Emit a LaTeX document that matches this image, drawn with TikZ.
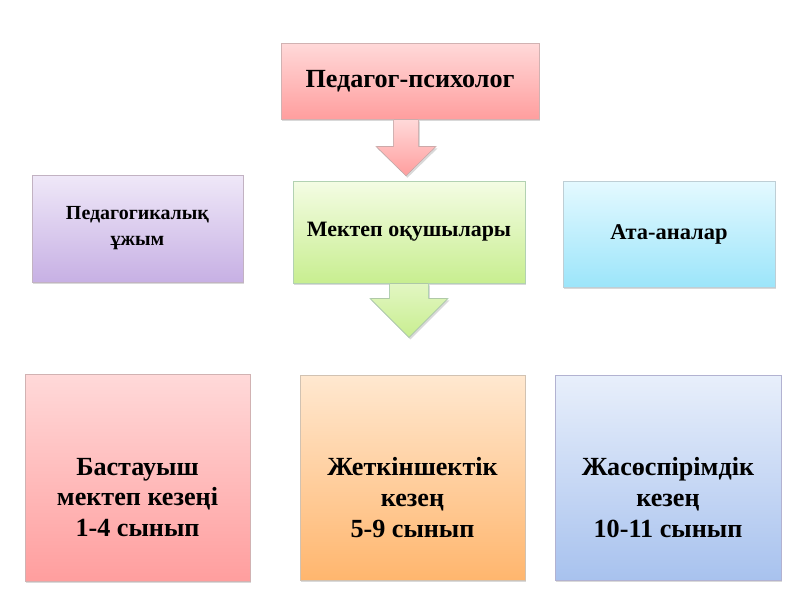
\documentclass[tikz,border=0pt]{standalone}
\usepackage{fontspec}
\setmainfont{Liberation Serif}
\usetikzlibrary{positioning,calc,shadows}

\definecolor{redtop}{HTML}{FFD9D9}
\definecolor{redbot}{HTML}{FF9E9E}
\definecolor{greentop}{HTML}{F4FCE4}
\definecolor{greenbot}{HTML}{C8EE90}
\definecolor{violettop}{HTML}{EFE8F8}
\definecolor{violetbot}{HTML}{C7B0E4}
\definecolor{bluetop}{HTML}{E4F9FF}
\definecolor{bluebot}{HTML}{9CE5FA}
\definecolor{orangetop}{HTML}{FFE8D0}
\definecolor{orangebot}{HTML}{FFB66E}
\definecolor{steeltop}{HTML}{E8EFFB}
\definecolor{steelbot}{HTML}{A8C2EE}

\tikzset{
  box/.style={draw=black!25, line width=0.5pt, drop shadow={shadow xshift=1pt, shadow yshift=-1.5pt, opacity=0.3},
    align=center, inner sep=2pt, font=\bfseries},
  redbox/.style={box, top color=redtop, bottom color=redbot, draw=red!40!black!30},
  greenbox/.style={box, top color=greentop, bottom color=greenbot, draw=green!40!black!30},
  violetbox/.style={box, top color=violettop, bottom color=violetbot, draw=violet!40!black!30},
  bluebox/.style={box, top color=bluetop, bottom color=bluebot, draw=cyan!40!black!30},
  orangebox/.style={box, top color=orangetop, bottom color=orangebot, draw=orange!40!black!30},
  steelbox/.style={box, top color=steeltop, bottom color=steelbot, draw=blue!40!black!30},
  stagetext/.style={align=center, yshift=-0.5cm, font=\bfseries\fontsize{18.6}{22}\selectfont},
}

\begin{document}
\begin{tikzpicture}[x=0.025cm, y=-0.025cm]
    \useasboundingbox (0,0) rectangle (800,600);

    \node (psy) [redbox, minimum width=258*0.025cm, minimum height=76*0.025cm,
      font=\bfseries\fontsize{18.6}{22}\selectfont] at (410,81) {Педагог-психолог};
    \node (pupils) [greenbox, minimum width=232*0.025cm, minimum height=102*0.025cm,
      font=\bfseries\fontsize{15.6}{18}\selectfont] at (409,232) {Мектеп оқушылары};
    \node (staff) [violetbox, minimum width=211*0.025cm, minimum height=107*0.025cm,
      font=\bfseries\fontsize{14.2}{18.5}\selectfont] at (137.5,228.5) {Педагогикалық\\ұжым};
    \node (parents) [bluebox, minimum width=212*0.025cm, minimum height=106*0.025cm,
      font=\bfseries\fontsize{16}{19}\selectfont] at (669,234) {Ата-аналар};

    \node (primary) [redbox, minimum width=225*0.025cm, minimum height=207*0.025cm,
      label={[stagetext]center:Бастауыш\\мектеп кезеңі\\1-4 сынып}] at (137.5,477.5) {};
    \node (teen) [orangebox, minimum width=225*0.025cm, minimum height=205*0.025cm,
      label={[stagetext]center:Жеткіншектік\\кезең\\5-9 сынып}] at (412.5,477.5) {};
    \node (youth) [steelbox, minimum width=226*0.025cm, minimum height=205*0.025cm,
      label={[stagetext]center:Жасөспірімдік\\кезең\\10-11 сынып}] at (668,477.5) {};

    % block arrows
    \coordinate (a) at ($(psy.south)+(-4,0)$);
    \filldraw[draw=red!40!black!30, top color=redtop, bottom color=redbot,
      drop shadow={shadow xshift=1pt, shadow yshift=-1.5pt, opacity=0.3}]
      ($(a)+(-12.5,0)$) -- ($(a)+(12.5,0)$) -- ($(a)+(12.5,27)$) -- ($(a)+(30,27)$)
      -- ($(pupils.north)+(-3,-5)$) -- ($(a)+(-30,27)$) -- ($(a)+(-12.5,27)$) -- cycle;
    \coordinate (b) at (pupils.south);
    \filldraw[draw=green!40!black!30, top color=greentop!60!greenbot, bottom color=greenbot,
      drop shadow={shadow xshift=1pt, shadow yshift=-1.5pt, opacity=0.3}]
      ($(b)+(-19.5,0)$) -- ($(b)+(19.5,0)$) -- ($(b)+(19.5,15)$) -- ($(b)+(39,15)$)
      -- ($(b)+(0,54)$) -- ($(b)+(-39,15)$) -- ($(b)+(-19.5,15)$) -- cycle;
\end{tikzpicture}
\end{document}
